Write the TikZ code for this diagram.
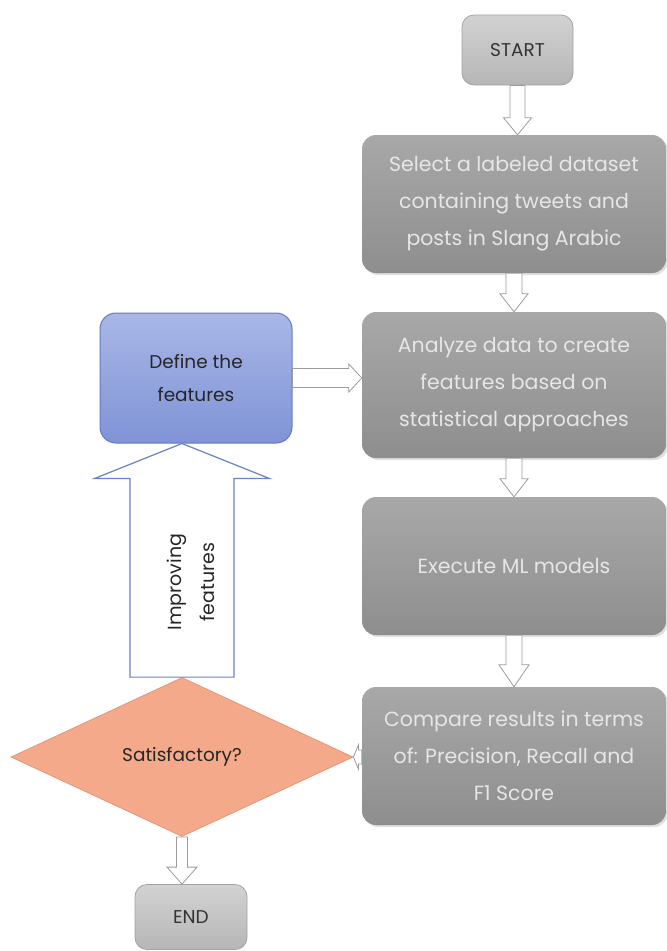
\documentclass[tikz,border=0pt]{standalone}
\usepackage{fontspec}
\setmainfont{Poppins}
\usetikzlibrary{shapes.geometric,calc,shadows}
\definecolor{grayT}{HTML}{A8A8A8}
\definecolor{grayB}{HTML}{8E8E8E}
\definecolor{grayTxt}{HTML}{E6E6E6}
\definecolor{lightT}{HTML}{D2D2D2}
\definecolor{lightB}{HTML}{B6B6B6}
\definecolor{lightEdge}{HTML}{A3A3A3}
\definecolor{blueT}{HTML}{A9B7E7}
\definecolor{blueB}{HTML}{7F93D6}
\definecolor{blueEdge}{HTML}{6479C0}
\definecolor{salmon}{HTML}{F5A98B}
\definecolor{salmonEdge}{HTML}{E4957A}
\definecolor{bigEdge}{HTML}{6A82C2}
\definecolor{arrEdge}{HTML}{9C9C9C}
\newcommand{\arrdown}[6]{\draw[#1] let \p1=(#2), \p2=(#3) in (\x2,\y2) -- (\x2-#5,\y2+#6) -- (\x2-#4,\y2+#6) -- (\x2-#4,\y1) -- (\x2+#4,\y1) -- (\x2+#4,\y2+#6) -- (\x2+#5,\y2+#6) -- cycle;}
\newcommand{\arrup}[6]{\draw[#1] let \p1=(#2), \p2=(#3) in (\x2,\y2) -- (\x2-#5,\y2-#6) -- (\x2-#4,\y2-#6) -- (\x2-#4,\y1) -- (\x2+#4,\y1) -- (\x2+#4,\y2-#6) -- (\x2+#5,\y2-#6) -- cycle;}
\newcommand{\arrright}[6]{\draw[#1] let \p1=(#2), \p2=(#3) in (\x2,\y2) -- (\x2-#6,\y2+#5) -- (\x2-#6,\y2+#4) -- (\x1,\y2+#4) -- (\x1,\y2-#4) -- (\x2-#6,\y2-#4) -- (\x2-#6,\y2-#5) -- cycle;}
\newcommand{\arrleft}[6]{\draw[#1] let \p1=(#2), \p2=(#3) in (\x2,\y2) -- (\x2+#6,\y2+#5) -- (\x2+#6,\y2+#4) -- (\x1,\y2+#4) -- (\x1,\y2-#4) -- (\x2+#6,\y2-#4) -- (\x2+#6,\y2-#5) -- cycle;}
\tikzset{
  txt/.style={font=\fontsize{18.5pt}{33pt}\selectfont, align=center},
  bigtxt/.style={font=\fontsize{20.5pt}{37pt}\selectfont, align=center},
  graybox/.style={bigtxt, rounded corners=14pt, top color=grayT, bottom color=grayB, draw=none,
    text=grayTxt, minimum width=304pt, inner sep=0pt,
    drop shadow={opacity=0.25, shadow xshift=2pt, shadow yshift=-2pt}},
  lightbox/.style={txt, rounded corners=12pt, top color=lightT, bottom color=lightB, draw=lightEdge,
    line width=0.8pt, text=black!80, inner sep=0pt},
  bluebox/.style={txt, rounded corners=16pt, top color=blueT, bottom color=blueB, draw=blueEdge,
    line width=1pt, text=black!85, inner sep=0pt},
  decision/.style={txt, diamond, shape aspect=2.15, fill=salmon, draw=salmonEdge, line width=0.8pt,
    text=black!85, inner sep=0pt},
  hollowarrow/.style={fill=white, draw=arrEdge, line width=0.8pt, line join=miter},
  bigarrow/.style={fill=white, draw=bigEdge, line width=1.2pt, line join=miter},
}
\begin{document}
\begin{tikzpicture}[x=1pt,y=-1pt]
\useasboundingbox[fill=white] (0,0) rectangle (667,951);
\node[lightbox, minimum width=111pt, minimum height=70pt] (start) at (517.5,50) {START};
\node[graybox, minimum height=138pt] (select) at (514,204) {Select a labeled dataset\\containing tweets and\\posts in Slang Arabic};
\node[graybox, minimum height=146pt] (analyze) at (514,385) {Analyze data to create\\features based on\\statistical approaches};
\node[graybox, minimum height=138pt] (execute) at (514,566) {Execute ML models};
\node[graybox, minimum height=138pt] (compare) at (514,756) {Compare results in terms\\of: Precision, Recall and\\F1 Score};
\node[bluebox, minimum width=192pt, minimum height=130pt] (define) at (196,378) {Define the\\features};
\node[decision, minimum width=342pt, minimum height=159pt] (sat) at (182,757) {Satisfactory?};
\node[lightbox, minimum width=112pt, minimum height=65pt] (end) at (191,917) {END};
% connectors
\arrdown{hollowarrow}{start.south}{start.south |- select.north}{7.5pt}{14pt}{17pt}
\arrdown{hollowarrow}{select.south}{select.south |- analyze.north}{8pt}{14pt}{18pt}
\arrdown{hollowarrow}{analyze.south}{analyze.south |- execute.north}{8pt}{14pt}{18pt}
\arrdown{hollowarrow}{execute.south}{execute.south |- compare.north}{8pt}{15pt}{22pt}
\arrright{hollowarrow}{define.east}{define.east -| analyze.west}{9.5pt}{14pt}{13pt}
\arrleft{hollowarrow}{compare.west}{sat.east}{7pt}{12pt}{5pt}
\arrdown{hollowarrow}{sat.south}{sat.south |- end.north}{5.5pt}{15pt}{17pt}
\arrup{bigarrow}{sat.north}{sat.north |- define.south}{52pt}{87.5pt}{35pt}
\node[txt, font=\fontsize{19pt}{33pt}\selectfont, rotate=90, text=black!85] (improve) at (191,582) {Improving\\features};
\end{tikzpicture}
\end{document}
